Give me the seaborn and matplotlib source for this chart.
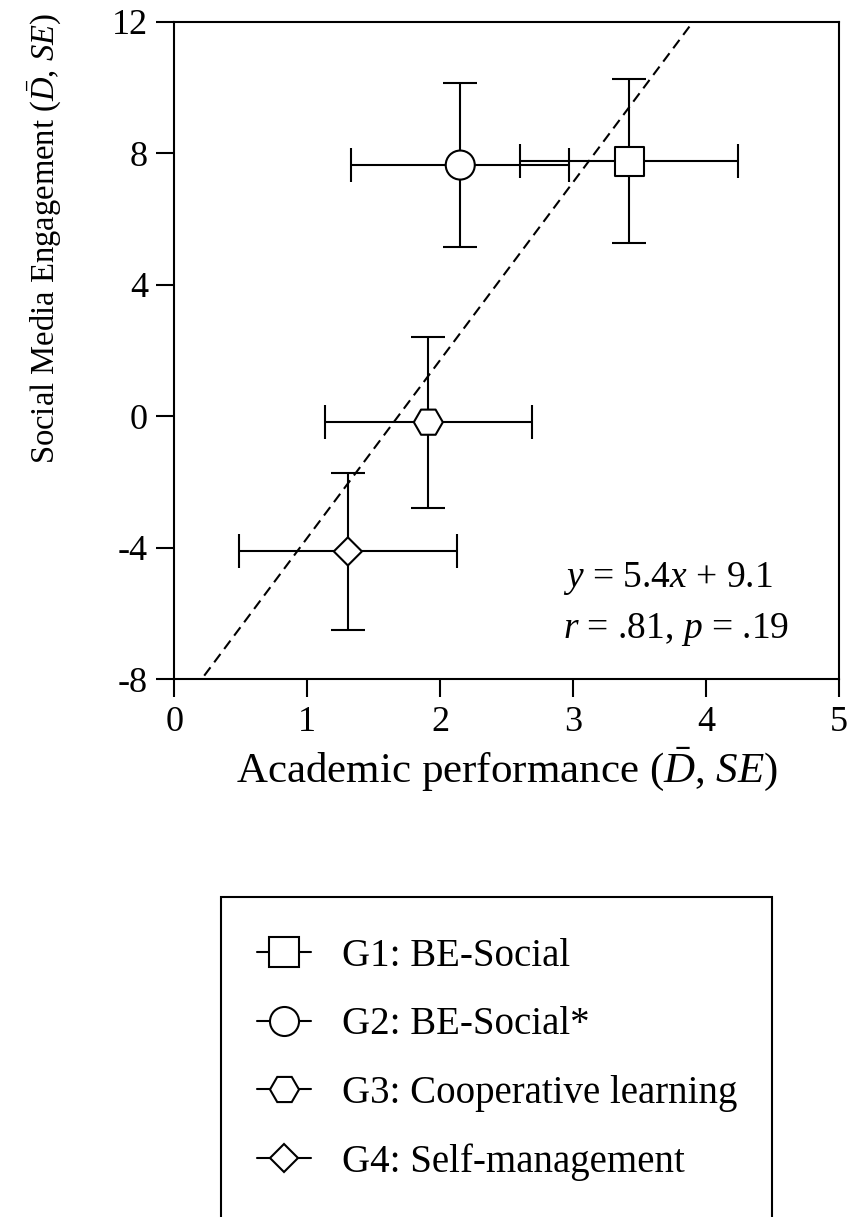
import numpy as np
import pandas as pd
import matplotlib
matplotlib.use("Agg")
import matplotlib.pyplot as plt
from matplotlib.lines import Line2D
from matplotlib.patches import Rectangle
import seaborn as sns

# Group means and standard errors
groups = ["G1: BE-Social", "G2: BE-Social*", "G3: Cooperative learning", "G4: Self-management"]
academic_mean = [3.42, 2.15, 1.91, 1.305]
academic_se = [0.82, 0.82, 0.78, 0.82]
social_mean = [7.76, 7.64, -0.18, -4.11]
social_se = [2.49, 2.49, 2.60, 2.38]

x_ticks = [0, 1, 2, 3, 4, 5]
y_ticks = [-8, -4, 0, 4, 8, 12]
fit_text = ["$y$ = 5.4$x$ + 9.1", "$r$ = .81, $p$ = .19"]

marker_map = dict(zip(groups, ["s", "o", "H", "D"]))
size_map = dict(zip(groups, [437, 437, 437, 205]))

sns.set_style("ticks")
plt.rcParams["font.family"] = ["Liberation Serif", "DejaVu Serif"]
plt.rcParams["mathtext.fontset"] = "custom"
plt.rcParams["mathtext.rm"] = "Liberation Serif"
plt.rcParams["mathtext.it"] = "Liberation Serif:italic"
plt.rcParams["mathtext.bf"] = "Liberation Serif:bold"
plt.rcParams["text.color"] = "black"
plt.rcParams["axes.labelcolor"] = "black"
plt.rcParams["xtick.color"] = "black"
plt.rcParams["ytick.color"] = "black"
plt.rcParams["axes.edgecolor"] = "black"

df = pd.DataFrame({
    "group": groups,
    "academic": academic_mean,
    "academic_se": academic_se,
    "social": social_mean,
    "social_se": social_se,
})

W, H = 851, 1217
fig = plt.figure(figsize=(W / 100, H / 100), dpi=100)
ax = fig.add_axes([174.3 / W, 1 - 679.3 / H, 665 / W, 657.6 / H])
ax.set_xlim(0, 5)
ax.set_ylim(-8, 12)

# least-squares fit line across the full x range
sns.regplot(x=df["academic"].to_numpy(), y=df["social"].to_numpy(), ax=ax,
            scatter=False, ci=None, truncate=False,
            line_kws=dict(color="black", lw=1.5, ls=(0, (5, 3)), zorder=1))

ax.errorbar(df["academic"], df["social"], xerr=df["academic_se"], yerr=df["social_se"],
            fmt="none", ecolor="black", elinewidth=1.5, capsize=12, capthick=1.5, zorder=2)

sns.scatterplot(data=df, x="academic", y="social", style="group", size="group",
                markers=marker_map, sizes=size_map, color="white", edgecolor="black",
                linewidth=1.5, legend=False, ax=ax, zorder=3)

ax.set_xlim(0, 5)
ax.set_ylim(-8, 12)
ax.set_xticks(x_ticks)
ax.set_yticks(y_ticks)
ax.set_xticklabels([str(v) for v in x_ticks])
ax.set_yticklabels([str(v) for v in y_ticks])
ax.tick_params(direction="out", length=13, width=1.5, labelsize=26, pad=6,
               colors="black", labelcolor="black")
for sp in ax.spines.values():
    sp.set_linewidth(1.5)
    sp.set_color("black")

ax.set_xlabel(r"Academic performance ($\bar{D}$, $SE$)", fontsize=31, labelpad=5, color="black")
ax.set_ylabel(r"Social Media Engagement ($\bar{D}$, $SE$)", fontsize=23.5, color="black")
ax.yaxis.set_label_coords(-0.167, 0.67)

ax.text(2.92, -4.92, fit_text[0], fontsize=27, ha="left", va="center", color="black")
ax.text(2.92, -6.50, fit_text[1], fontsize=27, ha="left", va="center", color="black")

# legend: marker with a short horizontal stroke, inside an open-bottomed frame
handles = [Line2D([], [], color="black", lw=1.5, marker=marker_map[g],
                  markersize=(20.9 if marker_map[g] != "D" else 14.3),
                  markerfacecolor="white", markeredgecolor="black", markeredgewidth=1.5)
           for g in groups]
fig.legend(handles, groups, loc="upper left", bbox_to_anchor=(257 / W, 1 - 938 / H),
           frameon=False, fontsize=28, handlelength=1.39, handletextpad=0.8,
           labelspacing=0.81, borderpad=0, borderaxespad=0, labelcolor="black")
fig.add_artist(Rectangle((221 / W, 1 - 1240 / H), (772 - 221) / W, (1240 - 897) / H,
                         transform=fig.transFigure, fill=False, lw=1.5,
                         edgecolor="black", clip_on=False))

fig.savefig("out.png", dpi=100)
